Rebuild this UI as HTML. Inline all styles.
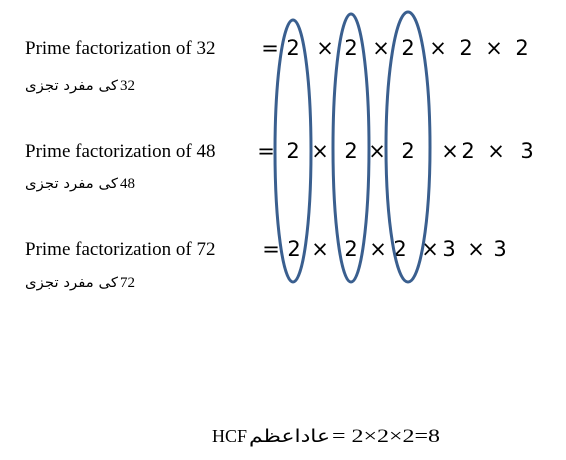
<!DOCTYPE html>
<html><head><meta charset="utf-8"><style>
body{margin:0;background:#fff;width:566px;height:460px;overflow:hidden}
svg{display:block}
.lbl{font-family:"Liberation Serif",serif;font-size:19px;fill:#000}
.ur{font-family:"DejaVu Sans",sans-serif;font-size:14px;fill:#000}
.num{font-family:"Liberation Serif",serif;font-size:15px;fill:#000}
.n{font-family:"DejaVu Sans","Liberation Sans",sans-serif;font-size:21px;fill:#000;text-anchor:middle}
</style></head><body>
<svg width="566" height="460">
<g>
<text class="lbl" x="25" y="54">Prime factorization of 32</text>
<g><text class="ur" x="25" y="90" textLength="93" lengthAdjust="spacingAndGlyphs">کی مفرد تجزی</text><text class="num" x="120" y="90">32</text></g>
<text class="n" x="270" y="55">=</text>
<text class="n" x="293" y="55">2</text><text class="n" x="325" y="55">×</text>
<text class="n" x="351" y="55">2</text><text class="n" x="381" y="55">×</text>
<text class="n" x="408" y="55">2</text><text class="n" x="438" y="55">×</text>
<text class="n" x="466" y="55">2</text><text class="n" x="494" y="55">×</text>
<text class="n" x="522" y="55">2</text>
</g>
<g>
<text class="lbl" x="25" y="157">Prime factorization of 48</text>
<g><text class="ur" x="25" y="188" textLength="93" lengthAdjust="spacingAndGlyphs">کی مفرد تجزی</text><text class="num" x="120" y="188">48</text></g>
<text class="n" x="266" y="158">=</text>
<text class="n" x="293" y="158">2</text><text class="n" x="320" y="158">×</text>
<text class="n" x="351" y="158">2</text><text class="n" x="377" y="158">×</text>
<text class="n" x="408" y="158">2</text><text class="n" x="450" y="158">×</text>
<text class="n" x="468" y="158">2</text><text class="n" x="496" y="158">×</text>
<text class="n" x="527" y="158">3</text>
</g>
<g>
<text class="lbl" x="25" y="255">Prime factorization of 72</text>
<g><text class="ur" x="25" y="287" textLength="93" lengthAdjust="spacingAndGlyphs">کی مفرد تجزی</text><text class="num" x="120" y="287">72</text></g>
<text class="n" x="271" y="256">=</text>
<text class="n" x="294" y="256">2</text><text class="n" x="320" y="256">×</text>
<text class="n" x="351" y="256">2</text><text class="n" x="378" y="256">×</text>
<text class="n" x="400" y="256">2</text><text class="n" x="430" y="256">×</text>
<text class="n" x="449" y="256">3</text><text class="n" x="476" y="256">×</text>
<text class="n" x="500" y="256">3</text>
</g>
<g fill="none" stroke="#3a5f8f" stroke-width="3">
<ellipse cx="293" cy="151" rx="18" ry="131"/>
<ellipse cx="351" cy="148" rx="18" ry="134"/>
<ellipse cx="408" cy="147" rx="22" ry="135"/>
</g>
<g>
<text x="212" y="442" class="lbl" style="font-size:18px">HCF</text>
<text x="249" y="442" class="ur" style="font-size:18px" textLength="81" lengthAdjust="spacingAndGlyphs">عاداعظم</text>
<text x="332" y="442" class="lbl" style="font-size:19px" textLength="108" lengthAdjust="spacingAndGlyphs">= 2×2×2=8</text>
</g>
</svg>
</body></html>
